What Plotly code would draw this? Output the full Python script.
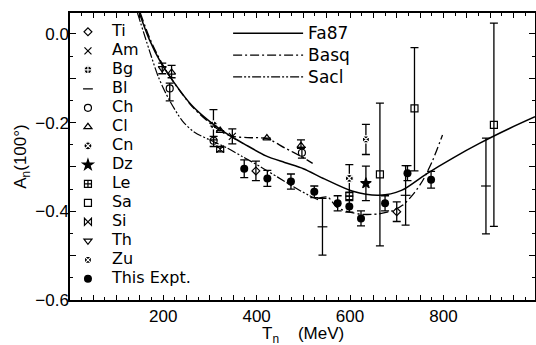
import plotly.graph_objects as go

# ---- model curves ----
fa87_x = [149, 170, 195, 220, 260, 300, 340, 373, 420, 460, 500, 545, 606, 663, 710, 763, 820, 877, 940, 996]
fa87_y = [0.047, -0.012, -0.065, -0.105, -0.160, -0.198, -0.228, -0.248, -0.275, -0.290, -0.304, -0.327,
          -0.355, -0.364, -0.353, -0.316, -0.280, -0.247, -0.214, -0.187]

basq_x = [151, 172, 197, 222, 262, 302, 330, 348, 380, 422, 460, 500, 520, None,
          530, 552, 573, 600, 627, 660, 690, 713, 735, 756, 777, 798]
basq_y = [0.047, -0.012, -0.066, -0.108, -0.164, -0.203, -0.224, -0.231, -0.234, -0.236, -0.257, -0.279, -0.292, None,
          -0.371, -0.368, -0.392, -0.402, -0.407, -0.406, -0.399, -0.386, -0.362, -0.330, -0.285, -0.228]

sacl_x = [145, 170, 190, 213, 241, 267, 306, 338, 370, 409, 445, 481, 510, 532]
sacl_y = [0.047, -0.036, -0.098, -0.149, -0.196, -0.222, -0.242, -0.258, -0.277, -0.300, -0.323, -0.346, -0.363, -0.374]

# ---- measurements: T_n, A_n, error up, error down ----
ti_x = [398.5, 700];          ti_y = [-0.309, -0.401];        ti_ep = [0.022, 0.022];   ti_em = [0.022, 0.022]
am_x = [348];                 am_y = [-0.231];                am_ep = [0.017];          am_em = [0.017]
bg_x = [307.6];               bg_y = [-0.205];                bg_ep = [0.034];          bg_em = [0.034]
bl_x = [541, 719, 891];       bl_y = [-0.435, -0.364, -0.343]; bl_ep = [0.064, 0.067, 0.108]; bl_em = [0.064, 0.067, 0.108]
ch_x = [214, 308, 497];       ch_y = [-0.123, -0.241, -0.268]; ch_ep = [0.012, 0.010, 0.012]; ch_em = [0.028, 0.013, 0.012]
cl_x = [218, 322, 422, 495];  cl_y = [-0.087, -0.218, -0.235, -0.252]; cl_ep = [0.016, 0.0, 0.0, 0.013]; cl_em = [0.012, 0.0, 0.0, 0.006]
cn_x = [598.5];               cn_y = [-0.326];                cn_ep = [0.031];          cn_em = [0.031]
dz_x = [634];                 dz_y = [-0.337];                dz_ep = [0.039];          dz_em = [0.039]
le_x = [598.5];               le_y = [-0.366];                le_ep = [0.0];            le_em = [0.0]
sa_x = [664, 738, 908];       sa_y = [-0.317, -0.168, -0.205]; sa_ep = [0.161, 0.137, 0.229]; sa_em = [0.161, 0.141, 0.229]
si_x = [322];                 si_y = [-0.260];                si_ep = [0.006];          si_em = [0.006]
th_x = [198];                 th_y = [-0.078];                th_ep = [0.012];          th_em = [0.012]
zu_x = [634];                 zu_y = [-0.238];                zu_ep = [0.034];          zu_em = [0.034]
ex_x = [373.5, 423, 473.5, 523.5, 573.5, 598.5, 623.5, 675, 723, 773.5]
ex_y = [-0.304, -0.326, -0.333, -0.356, -0.382, -0.389, -0.416, -0.382, -0.314, -0.329]
ex_e = [0.020, 0.018, 0.017, 0.013, 0.017, 0.013, 0.017, 0.017, 0.017, 0.019]

LEG_SPAN = '<span style="font-size:16px">{}</span>'
LINE_SPAN = '<span style="font-size:17px">{}</span>'

fig = go.Figure()

series = [
    ("Ti", ti_x, ti_y, ti_ep, ti_em, "diamond-open", 6),
    ("Am", am_x, am_y, am_ep, am_em, "x-thin-open", 7),
    ("Bg", bg_x, bg_y, bg_ep, bg_em, "circle-cross", 8),
    ("Bl", bl_x, bl_y, bl_ep, bl_em, "line-ew-open", 7),
    ("Ch", ch_x, ch_y, ch_ep, ch_em, "circle-open", 7),
    ("Cl", cl_x, cl_y, cl_ep, cl_em, "triangle-up-open", 7),
    ("Cn", cn_x, cn_y, cn_ep, cn_em, "circle-x", 8),
    ("Dz", dz_x, dz_y, dz_ep, dz_em, "star", 8),
    ("Le", le_x, le_y, le_ep, le_em, "square-cross-open", 7),
    ("Sa", sa_x, sa_y, sa_ep, sa_em, "square-open", 7),
    ("Si", si_x, si_y, si_ep, si_em, "bowtie-open", 7),
    ("Th", th_x, th_y, th_ep, th_em, "triangle-down-open", 7),
    ("Zu", zu_x, zu_y, zu_ep, zu_em, "square-x", 7),
]

for name, xs, ys, ep, em, sym, sz in series:
    inner = "white" if sym in ("circle-cross", "circle-x", "square-x") else "black"
    fig.add_trace(go.Scatter(
        x=xs, y=ys, mode="markers", name=LEG_SPAN.format(name), legend="legend",
        marker=dict(symbol=sym, size=sz, color="black", line=dict(color=inner, width=1.2)),
        error_y=dict(type="data", array=ep, arrayminus=em, symmetric=False,
                     color="black", thickness=1.3, width=4),
    ))

fig.add_trace(go.Scatter(
    x=ex_x, y=ex_y, mode="markers", name=LEG_SPAN.format("This Expt."), legend="legend",
    marker=dict(symbol="circle", size=8, color="black"),
    error_y=dict(type="data", array=ex_e, color="black", thickness=1.3, width=4),
))

fig.add_trace(go.Scatter(x=fa87_x, y=fa87_y, mode="lines", name=LINE_SPAN.format("Fa87"), legend="legend2",
                         line=dict(color="black", width=1.5, shape="spline", smoothing=0.8)))
fig.add_trace(go.Scatter(x=basq_x, y=basq_y, mode="lines", name=LINE_SPAN.format("Basq"), legend="legend2",
                         line=dict(color="black", width=1.3, dash="9px,3px,2px,3px", shape="spline", smoothing=0.8),
                         connectgaps=False))
fig.add_trace(go.Scatter(x=sacl_x, y=sacl_y, mode="lines", name=LINE_SPAN.format("Sacl"), legend="legend2",
                         line=dict(color="black", width=1.2, dash="9px,2px,2px,2px,2px,2px", shape="spline", smoothing=0.8)))

axis_font = dict(family="Liberation Sans, Arial, sans-serif", size=17, color="black")

fig.update_layout(
    width=536, height=345,
    margin=dict(l=70, r=1, t=13, b=45),
    paper_bgcolor="white", plot_bgcolor="white",
    font=dict(family="DejaVu Sans, sans-serif", color="black"),
    xaxis=dict(
        range=[0.5, 996], tick0=0, dtick=50, ticklabelstep=4, automargin=False,
        ticks="inside", ticklen=5, tickwidth=1.2, tickcolor="black",
        minor=dict(dtick=25, tick0=0, ticks="inside", ticklen=3, tickcolor="black"),
        showline=True, linecolor="black", linewidth=1.5, mirror="allticks",
        showgrid=False, zeroline=False, tickfont=axis_font,
    ),
    yaxis=dict(
        range=[-0.6, 0.047], tick0=0, dtick=0.1, ticklabelstep=2, tickformat=".1f", automargin=False,
        ticks="inside", ticklen=6, tickwidth=1.2, tickcolor="black",
        minor=dict(dtick=0.05, tick0=0, ticks="inside", ticklen=3, tickcolor="black"),
        showline=True, linecolor="black", linewidth=1.5, mirror="allticks",
        showgrid=False, zeroline=False, tickfont=axis_font, ticklabelstandoff=-4,
        title=dict(text="A<sub>n</sub>(100\u00b0)", font=axis_font, standoff=4),
    ),
    annotations=[dict(
        text="T<sub>n</sub>\u00a0\u00a0\u00a0\u00a0(MeV)", xref="paper", yref="paper",
        x=0.501, y=-0.077, xanchor="center", yanchor="top", showarrow=False, font=axis_font,
    )],
    legend=dict(
        x=-0.013, y=0.985, xanchor="left", yanchor="top",
        bgcolor="rgba(0,0,0,0)", borderwidth=0,
        font=dict(family="DejaVu Sans, sans-serif", size=12, color="black"),
        itemwidth=38, tracegroupgap=0,
    ),
    legend2=dict(
        x=0.34, y=0.985, xanchor="left", yanchor="top",
        bgcolor="rgba(0,0,0,0)", borderwidth=0,
        font=dict(family="DejaVu Sans, sans-serif", size=14.5, color="black"),
        itemwidth=70, tracegroupgap=0,
    ),
)

fig.write_html("out.html")
